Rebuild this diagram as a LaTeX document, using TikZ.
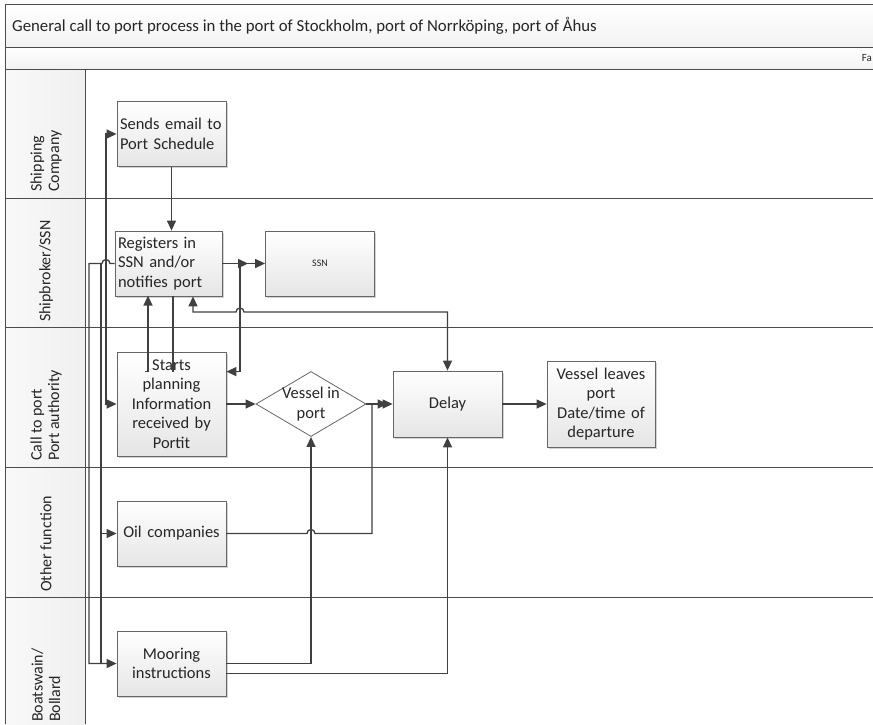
\documentclass[tikz,border=0pt]{standalone}
\usepackage{fontspec}
\setmainfont{Carlito}
\usetikzlibrary{arrows.meta,shapes.geometric,shadows}

\begin{document}
\begin{tikzpicture}[x=1pt, y=1pt, >={Triangle[length=10pt,width=9pt]},
    every node/.style={text=black!85},
    rule/.style={draw=black!70, line width=0.9pt},
    conn/.style={draw=black!75, line width=1.3pt, ->},
    plain/.style={draw=black!75, line width=1.3pt},
    box/.style={rectangle, draw=black!60, line width=0.8pt, top color=white, bottom color=gray!20,
        minimum width=109pt, minimum height=65pt, inner xsep=3pt, inner ysep=1pt, text width=103pt,
        align=center, font=\fontsize{16.5}{19.5}\selectfont,
        drop shadow={shadow xshift=1.5pt, shadow yshift=-1.5pt, opacity=0.35, fill=gray}},
    lane/.style={rotate=90, anchor=west, inner sep=0pt, align=left, font=\fontsize{16}{17.5}\selectfont}]

    \useasboundingbox (0,0) rectangle (873,-724);
    \fill[top color=white, bottom color=gray!10] (5,-4) rectangle (873,-47);
    \fill[top color=white, bottom color=gray!10] (5,-47) rectangle (873,-69);
    \fill[left color=gray!5, right color=gray!12] (5,-69) rectangle (85,-724);
    \draw[rule] (5,-4) -- (873,-4);
    \foreach \y in {47,69,198,327,467,597} {
        \draw[rule] (5,-\y) -- (873,-\y);
    }
    \draw[rule] (5,-4) -- (5,-724);
    \draw[rule] (85,-69) -- (85,-724);

    \node[anchor=west, inner sep=0pt, font=\fontsize{16.8}{19}\selectfont] (title) at (12,-26)
        {General call to port process in the port of Stockholm, port of Norrköping, port of Åhus};
    \node[anchor=east, inner sep=0pt, font=\fontsize{11}{13}\selectfont] (phase) at (872,-58) {Fa};

    \node[lane] (l1) at (46,-192) {Shipping\\Company};
    \node[lane] (l2) at (46,-322) {Shipbroker/SSN};
    \node[lane] (l3) at (46,-461) {Call to port\\Port authority};
    \node[lane] (l4) at (46,-592) {Other function};
    \node[lane] (l5) at (46,-722) {Boatswain/\\Bollard};

    \node[box, align=left] (sends) at (171.5,-134) {Sends email to\\Port Schedule};
    \node[box, align=left, minimum width=107pt, text width=101pt] (reg) at (168.5,-263.5) {Registers in\\SSN and/or\\notifies port};
    \node[box, text width=102pt, font=\fontsize{10}{12}\selectfont] (ssn) at (320,-263.5) {SSN};
    \node[box, minimum height=104pt, inner ysep=0.5pt] (plan) at (171.5,-404) {Starts\\planning\\Information\\received by\\Portit};
    \node[diamond, draw=black!60, line width=0.8pt, fill=white, minimum width=110pt, minimum height=65pt, inner sep=0pt] (vip) at (311,-404) {};
    \node[align=center, font=\fontsize{16.5}{19.5}\selectfont] (viptext) at (vip) {Vessel in\\port};
    \node[box, minimum height=66pt] (delay) at (447.5,-404) {Delay};
    \node[box, minimum width=108pt, text width=102pt, minimum height=86pt] (leaves) at (601,-404) {Vessel leaves\\port\\Date/time of\\departure};
    \node[box] (oil) at (171.5,-533.5) {Oil companies};
    \node[box] (moor) at (171.5,-663.5) {Mooring\\instructions};

    \coordinate (lx1) at (89,0);
    \coordinate (lx2) at (101,0);
    \coordinate (lx3) at (106,0);
    \coordinate (jr) at (240,-263.5);
    \coordinate (jd) at (372,-404);
    \coordinate (hopA) at (240,-312);
    \coordinate (hopB) at (311,-533.5);
    \coordinate (hopC) at (106,-263.5);

    \draw[conn] (sends.south) -- (sends.south |- reg.north);
    \draw[conn] (reg.east) -- (ssn.west);
    \draw[conn, shorten >=17pt] (reg.east) -- (ssn.west);
    \draw[conn] (jr) |- ([yshift=-20pt]plan.north east);
    \draw[conn] ([xshift=-26.5pt,yshift=-20pt]plan.north) -- ++(3,0) -- ++(0,76);
    \draw[plain] ([xshift=4.5pt]reg.south) -- ++(0,-76);
    \draw[conn, <->] ([xshift=24.5pt]reg.south) -- ([xshift=24.5pt]reg.south |- hopA) -- ([xshift=-4pt]hopA)
        arc (180:0:4pt) -- (hopA -| delay.north) -- (delay.north);
    \draw[conn] (plan.east) -- (vip.west);
    \draw[conn] (vip.east) -- (delay.west);
    \draw[conn] (delay.east) -- (leaves.west);
    \draw[conn, shorten >=5pt] (oil.east) -- ([xshift=-4pt]hopB) arc (180:0:4pt) -- (jd |- oil.east) -- (jd) -- (delay.west);
    \draw[conn] (moor.east) -| (vip.south);
    \draw[conn] ([yshift=-10pt]moor.east) -| (delay.south);
    \draw[conn, <->] (sends.west) -- (sends.west -| lx3) -- (plan.west -| lx3) -- (plan.west);
    \draw[conn] (reg.west) -- ([xshift=4pt]hopC) arc (0:180:4pt) -- (reg.west -| lx1) -- (moor.west -| lx1) -- (moor.west);
    \draw[conn] (reg.west -| lx2) -- (oil.west -| lx2) -- (oil.west);
    \draw[plain] (oil.west -| lx2) -- (moor.west -| lx2);
\end{tikzpicture}
\end{document}
